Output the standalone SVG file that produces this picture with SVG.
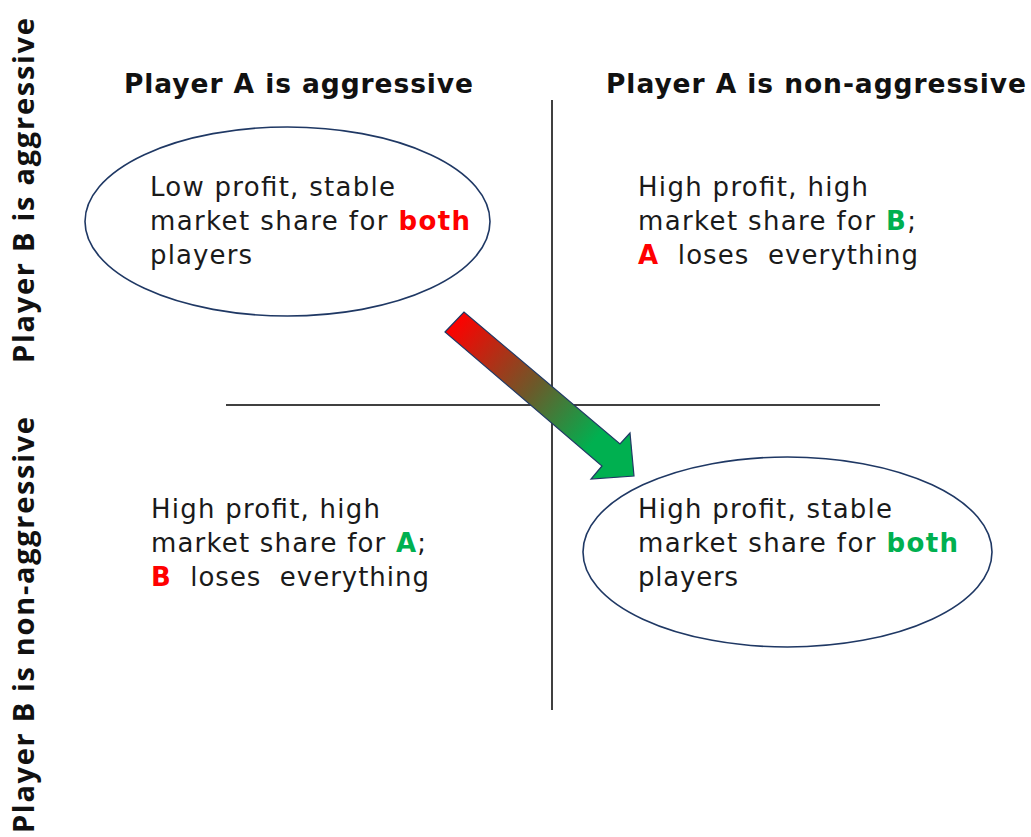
<svg xmlns="http://www.w3.org/2000/svg" width="1031" height="837" viewBox="0 0 1031 837">
<style>
.body{font-family:"DejaVu Sans",Verdana,sans-serif;font-size:26px;fill:#1a1a1a}
.hdr{font-family:"DejaVu Sans",Verdana,sans-serif;font-size:26.5px;font-weight:bold;fill:#111}
.side{font-family:"Open Sans","Liberation Sans",sans-serif;font-size:29px;font-weight:bold;fill:#111}
.red{fill:#ff0000;font-weight:bold}
.grn{fill:#00b050;font-weight:bold}
.ell{fill:none;stroke:#1f3864;stroke-width:1.6}
.axis{stroke:#000;stroke-width:1.5}
</style>
<defs>
<linearGradient id="g" x1="454" y1="322" x2="630" y2="470" gradientUnits="userSpaceOnUse">
<stop offset="0" stop-color="#ff0000"/>
<stop offset="0.45" stop-color="#6b5a2a"/>
<stop offset="0.8" stop-color="#00b050"/>
<stop offset="1" stop-color="#00b050"/>
</linearGradient>
</defs>
<rect width="1031" height="837" fill="#fff"/>
<g id="headers">
<text class="hdr" x="124" y="93" textLength="349">Player A is aggressive</text>
<text class="hdr" x="606" y="93" textLength="420">Player A is non-aggressive</text>
<text class="side" transform="translate(34,363) rotate(-90)" textLength="345">Player B is aggressive</text>
<text class="side" transform="translate(34,833) rotate(-90)" textLength="416">Player B is non-aggressive</text>
</g>
<g id="connectors">
<line class="axis" x1="552" y1="100" x2="552" y2="710"/>
<line class="axis" x1="226" y1="405" x2="880" y2="405"/>
<polygon points="445,332 464,312 620,444 630,433 634,476 591,479 602,466" fill="url(#g)" stroke="#1f3864" stroke-width="1.2" stroke-linejoin="miter"/>
</g>
<g id="q1">
<ellipse class="ell" cx="287.5" cy="221.5" rx="202.5" ry="94.5"/>
<text class="body" x="150" y="196" textLength="245">Low profit, stable</text>
<text class="body" x="150" y="230" textLength="320">market share for <tspan class="red">both</tspan></text>
<text class="body" x="150" y="264" textLength="102">players</text>
</g>
<g id="q2">
<text class="body" x="638" y="196" textLength="230">High profit, high</text>
<text class="body" x="638" y="230" textLength="278">market share for <tspan class="grn">B</tspan>;</text>
<text class="body" x="638" y="264" xml:space="preserve" textLength="280"><tspan class="red">A</tspan>  loses  everything</text>
</g>
<g id="q3">
<text class="body" x="151" y="518" textLength="229">High profit, high</text>
<text class="body" x="151" y="552" textLength="275">market share for <tspan class="grn">A</tspan>;</text>
<text class="body" x="151" y="586" xml:space="preserve" textLength="278"><tspan class="red">B</tspan>  loses  everything</text>
</g>
<g id="q4">
<ellipse class="ell" cx="787.5" cy="552" rx="204.5" ry="95"/>
<text class="body" x="638" y="518" textLength="254">High profit, stable</text>
<text class="body" x="638" y="552" textLength="320">market share for <tspan class="grn">both</tspan></text>
<text class="body" x="638" y="586" textLength="100">players</text>
</g>
</svg>
